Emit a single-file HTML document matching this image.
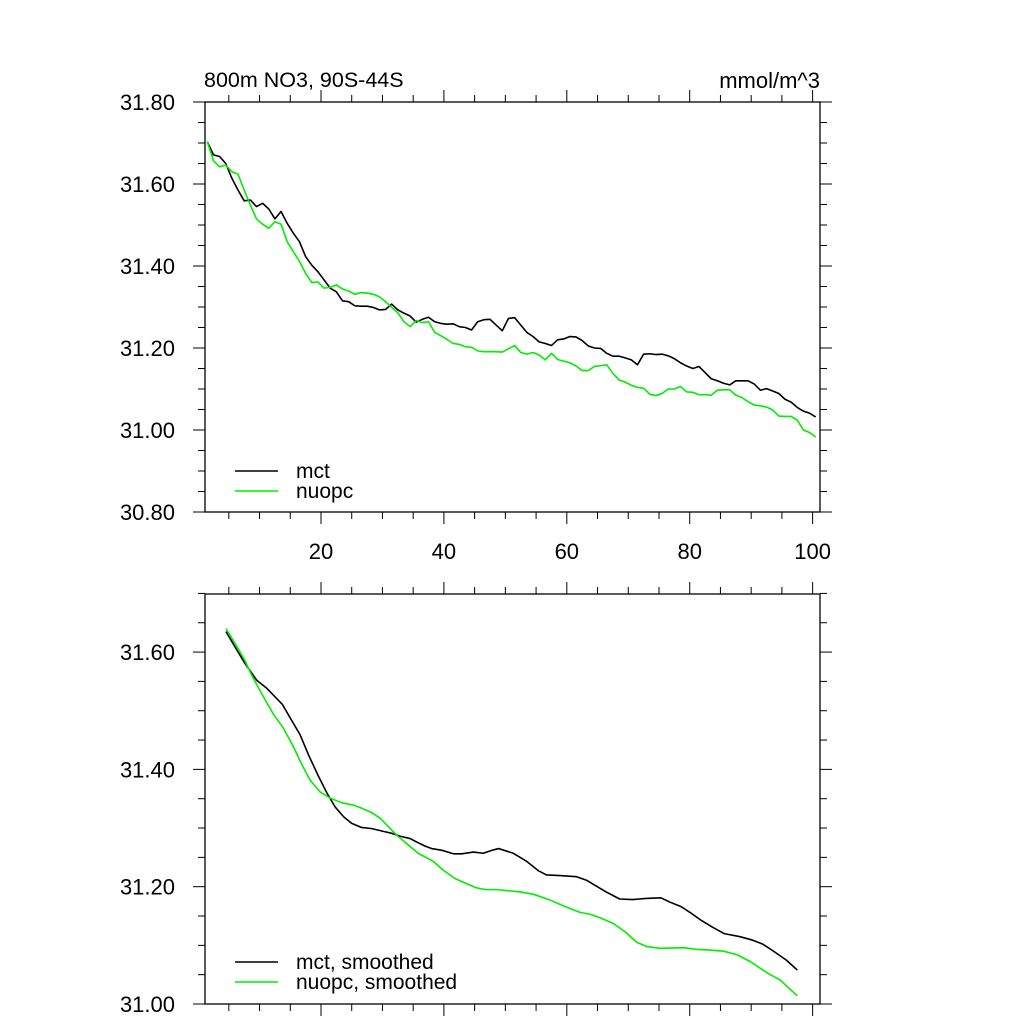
<!DOCTYPE html>
<html><head><meta charset="utf-8"><style>
html,body{margin:0;padding:0;background:#fff;}
svg{display:block;font-family:"Liberation Sans",sans-serif;}
</style></head><body>
<svg id="chart" width="1024" height="1024" viewBox="0 0 1024 1024" xmlns="http://www.w3.org/2000/svg">
<text x="204" y="87" font-size="21.5">800m NO3, 90S-44S</text>
<text x="820" y="88" font-size="22" text-anchor="end">mmol/m^3</text>
</svg>
<script>
const mctRaw = [31.703,31.671,31.667,31.650,31.614,31.585,31.559,31.561,31.545,31.553,31.539,31.515,31.533,31.504,31.480,31.459,31.423,31.402,31.386,31.366,31.346,31.337,31.315,31.313,31.303,31.302,31.302,31.299,31.293,31.294,31.307,31.293,31.285,31.278,31.263,31.270,31.275,31.264,31.260,31.258,31.259,31.252,31.250,31.244,31.264,31.269,31.270,31.256,31.242,31.272,31.274,
31.256,31.238,31.228,31.215,31.211,31.206,31.220,31.222,31.228,31.227,31.218,31.205,31.200,31.199,31.187,31.180,31.180,31.176,31.171,31.159,31.185,31.186,31.184,31.185,31.181,31.174,31.164,31.156,31.150,31.155,31.140,31.125,31.120,31.114,31.110,31.120,31.120,31.120,31.112,31.097,31.101,31.095,31.089,31.075,31.068,31.055,31.046,31.041,31.032];
const nuopcRaw = [31.703,31.657,31.642,31.646,31.630,31.624,31.585,31.549,31.515,31.502,31.492,31.508,31.502,31.459,31.435,31.411,31.382,31.360,31.361,31.346,31.348,31.354,31.344,31.339,31.331,31.335,31.334,31.331,31.325,31.313,31.299,31.286,31.264,31.252,31.267,31.262,31.264,31.238,31.230,31.221,31.211,31.209,31.203,31.202,31.193,31.191,31.191,31.191,31.190,31.198,31.206,
31.189,31.185,31.189,31.183,31.171,31.187,31.172,31.168,31.164,31.156,31.145,31.145,31.155,31.157,31.159,31.138,31.122,31.117,31.109,31.104,31.102,31.087,31.084,31.089,31.100,31.100,31.106,31.093,31.092,31.086,31.086,31.085,31.097,31.098,31.098,31.085,31.079,31.069,31.061,31.059,31.056,31.049,31.034,31.033,31.033,31.024,31.000,30.994,30.983];
const mctSmoothX = [4.54,6.0,7.6,9.54,11.2,12.5,13.7,15.2,16.6,18.0,19.6,21.0,22.3,23.7,25.0,26.6,28.3,29.9,31.5,32.9,34.5,35.6,37.0,38.0,39.7,41.6,42.9,44.8,46.4,47.8,48.9,51.3,53.5,55.4,56.7,58.9,61.6,63.2,64.8,66.4,68.6,70.7,72.9,75.3,76.7,78.6,80.2,81.8,83.7,85.6,88.1,90.2,91.9,93.5,95.7,97.5];
const mctSmooth = [31.635,31.609,31.581,31.552,31.538,31.524,31.511,31.484,31.459,31.424,31.388,31.359,31.336,31.319,31.308,31.301,31.299,31.295,31.291,31.286,31.282,31.276,31.269,31.265,31.262,31.256,31.256,31.259,31.257,31.262,31.265,31.257,31.243,31.227,31.220,31.219,31.217,31.211,31.201,31.191,31.179,31.178,31.180,31.181,31.174,31.166,31.155,31.143,31.131,31.120,31.115,31.109,31.102,31.091,31.075,31.058];
const nuopcSmoothX = [4.54,6.0,7.6,8.7,10.3,12.2,13.9,15.5,16.8,18.2,19.8,21.5,23.4,25.3,26.6,28.3,29.6,31.0,32.3,34.2,35.8,38.3,39.9,41.8,43.7,45.3,46.9,48.6,52.4,54.6,57.3,60.0,62.2,63.8,65.4,67.6,69.5,71.4,73.0,75.2,79.0,81.2,83.3,85.5,87.7,89.9,92.6,94.7,97.5];
const nuopcSmooth = [31.640,31.615,31.586,31.561,31.530,31.495,31.470,31.439,31.410,31.382,31.362,31.351,31.343,31.339,31.334,31.326,31.317,31.302,31.288,31.271,31.257,31.243,31.228,31.214,31.205,31.198,31.195,31.195,31.191,31.187,31.177,31.165,31.156,31.153,31.147,31.137,31.123,31.105,31.098,31.095,31.096,31.093,31.092,31.090,31.084,31.072,31.053,31.041,31.014];
const xTickValues = [20,40,60,80,100];
const xTickLabels = ["20","40","60","80","100"];
const topYTicks = [30.8,31.0,31.2,31.4,31.6,31.8];
const topYLabels = ["30.80","31.00","31.20","31.40","31.60","31.80"];
const botYTicks = [31.0,31.2,31.4,31.6];
const botYLabels = ["31.00","31.20","31.40","31.60"];

const svg = document.getElementById('chart');
const NS = 'http://www.w3.org/2000/svg';
function mk(tag, attrs){const e=document.createElementNS(NS,tag);for(const k in attrs)e.setAttribute(k,attrs[k]);svg.appendChild(e);return e;}
const XMIN=1.125, XMAX=101.2, L=205, R=820;
const sx = v => L + (v-XMIN)/(XMAX-XMIN)*(R-L);

function panel(name, top, bottom, ymin, ymax, yTicks, yLabels, showX, series, legend){
  const sy = v => bottom - (v-ymin)/(ymax-ymin)*(bottom-top);
  for(let k=Math.round(ymin*20); k<=Math.round(ymax*20); k++){
    const v=k/20, y=sy(v), major = yTicks.some(t=>Math.abs(t-v)<1e-6);
    const len = major?12:7;
    let t=mk('line',{x1:L-len,x2:L,y1:y,y2:y,stroke:'#000','stroke-width':1});
    
    
    t=mk('line',{x1:R,x2:R+len,y1:y,y2:y,stroke:'#000','stroke-width':1});
    
    
  }
  yTicks.forEach((v,i)=>{
    const t=mk('text',{x:175,y:sy(v)+8,'font-size':22,'text-anchor':'end'});
    t.textContent=yLabels[i];
    
    
  });
  for(let v=5; v<=100; v+=5){
    const major = v%20===0, len=major?12:7, x=sx(v);
    let t=mk('line',{x1:x,x2:x,y1:bottom,y2:bottom+len,stroke:'#000','stroke-width':1});
    
    
    t=mk('line',{x1:x,x2:x,y1:top-len,y2:top,stroke:'#000','stroke-width':1});
    
    
  }
  if(showX){
    xTickValues.forEach((v,i)=>{
      const t=mk('text',{x:sx(v),y:bottom+47,'font-size':22,'text-anchor':'middle'});
      t.textContent=xTickLabels[i];
      
      
    });
  }
  const fr=mk('rect',{x:L,y:top,width:R-L,height:bottom-top,fill:'none',stroke:'#000','stroke-width':1.3});
  
  
  series.forEach(s=>{
    const pts = s.ys.map((v,i)=>sx(s.xs[i]).toFixed(2)+','+sy(v).toFixed(2)).join(' ');
    const p=mk('polyline',{points:pts,fill:'none',stroke:s.color,'stroke-width':1.6,'stroke-linejoin':'round'});
    
    
  });
  legend.forEach((lg,i)=>{
    const y=legend.y0+i*20;
    const l=mk('line',{x1:235,x2:278,y1:y,y2:y,stroke:lg.color,'stroke-width':1.6});
    
    
    const t=mk('text',{x:296,y:y+7,'font-size':21});
    t.textContent=lg.label;
    
    
  });
}
const idx = mctRaw.map((_,i)=>i+1.5);
const topLegend=[{color:'#000',label:'mct'},{color:'#00ee00',label:'nuopc'}]; topLegend.y0=471;
panel('top-panel',102,512,30.8,31.8,topYTicks,topYLabels,true,
 [{name:'mct-line',xs:idx,ys:mctRaw,color:'#000'},{name:'nuopc-line',xs:nuopcRaw.map((_,i)=>i+1.5),ys:nuopcRaw,color:'#00ee00'}],topLegend);
const botLegend=[{color:'#000',label:'mct, smoothed'},{color:'#00ee00',label:'nuopc, smoothed'}]; botLegend.y0=962;
panel('bottom-panel',594,1004,31.0,31.699,botYTicks,botYLabels,false,
 [{name:'mct-smoothed-line',xs:mctSmoothX,ys:mctSmooth,color:'#000'},{name:'nuopc-smoothed-line',xs:nuopcSmoothX,ys:nuopcSmooth,color:'#00ee00'}],botLegend);
</script>
</body></html>
